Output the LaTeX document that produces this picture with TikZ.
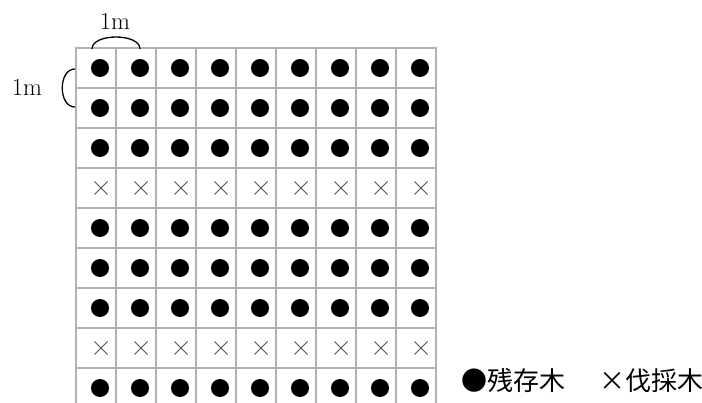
\documentclass[tikz,border=0pt]{standalone}
\usepackage{fontspec}
\newfontfamily\cjk{Noto Sans CJK JP}
\definecolor{gridgray}{RGB}{178,178,178}
\definecolor{crossgray}{RGB}{80,80,80}
\tikzset{
  gridline/.style={draw=gridgray, line width=2pt},
  tree/.style={fill=black},
  cut/.style={draw=crossgray, line width=0.9pt},
  bracketline/.style={draw=black, line width=1.3pt},
  lbl/.style={inner sep=0pt, font=\fontsize{24.5}{24.5}\selectfont},
}
\begin{document}
\begin{tikzpicture}[x=1pt,y=-1pt]
\useasboundingbox (0,0) rectangle (702,403);
% grid
\foreach \i in {0,...,9} \draw[gridline] (76+40*\i,48) -- (76+40*\i,403);
\foreach \j in {0,...,8} \draw[gridline] (75,48+40*\j) -- (437,48+40*\j);
% trees
\foreach \r in {0,1,2,4,5,6,8}
  \foreach \c in {0,...,8}
    \fill[tree] (100+40*\c,68+40*\r) circle (9);
\foreach \r in {3,7}
  \foreach \c in {0,...,8}
    \draw[cut] (94.5+40*\c,61.5+40*\r) -- (107.5+40*\c,74.5+40*\r)
               (94.5+40*\c,74.5+40*\r) -- (107.5+40*\c,61.5+40*\r);
% dimension brackets
\coordinate (ta) at (92,49);
\coordinate (tb) at (140,49);
\draw[bracketline] (ta) .. controls (92,33) and (140,33) .. (tb);
\coordinate (la) at (75,69);
\coordinate (lb) at (75,107);
\draw[bracketline] (la) .. controls (58,69) and (58,107) .. (lb);
\node[lbl] (topm) at (115,21) {1m};
\node[lbl] (leftm) at (27,87) {1m};
% legend
\node[inner sep=0pt, anchor=west] (legend) at (461,381)
  {\cjk\fontsize{26}{26}\selectfont \makebox[1em]{●}残存木\hspace{1.3em}\makebox[1em]{×}伐採木};
\end{tikzpicture}
\end{document}
